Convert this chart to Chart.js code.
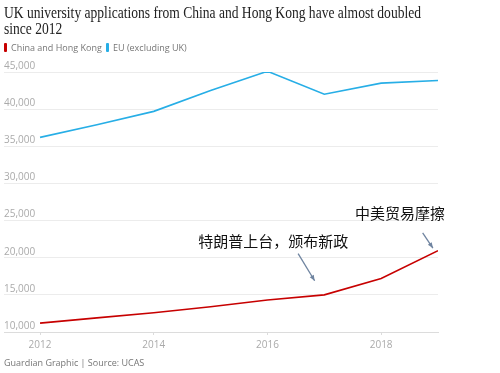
<!DOCTYPE html>
<html><head><meta charset="utf-8">
<script src="https://cdn.jsdelivr.net/npm/chart.js@4/dist/chart.umd.min.js"></script>
<style>
html,body{margin:0;padding:0;background:#fff;width:500px;height:373px;overflow:hidden;}
#wrap{position:relative;width:500px;height:373px;}
#c{position:absolute;left:0;top:0;}
.t{position:absolute;left:4px;font-family:"Liberation Serif",serif;font-size:16.5px;line-height:17px;color:#222;white-space:nowrap;transform-origin:0 0;}
.lg{position:absolute;top:41px;font-family:"Open Sans",sans-serif;font-size:9px;color:#767676;white-space:nowrap;}
.sw{display:inline-block;width:3px;height:9px;margin-right:4px;vertical-align:-1px;border-radius:1px;}
.ft{position:absolute;left:4px;top:356px;font-family:"Open Sans",sans-serif;font-size:9px;color:#767676;}
</style></head>
<body><div id="wrap">
<canvas id="c" width="500" height="373"></canvas>
<div class="t" id="t1" style="top:4px">UK university applications from China and Hong Kong have almost doubled</div>
<div class="t" id="t2" style="top:20px">since 2012</div>
<div class="lg" style="left:4px"><span class="sw" style="background:#c70000"></span>China and Hong Kong</div>
<div class="lg" style="left:106px"><span class="sw" style="background:#27aee6"></span>EU (excluding UK)</div>
<div class="ft">Guardian Graphic | Source: UCAS</div>
</div>
<script>
const years = [2012, 2013, 2014, 2015, 2016, 2017, 2018, 2019];
const chinaHK = [11200, 11900, 12600, 13400, 14300, 15000, 17200, 20950];
const eu = [36200, 37900, 39700, 42500, 45100, 42000, 43500, 43850];
const yTicks = [10000, 15000, 20000, 25000, 30000, 35000, 40000, 45000];
const xTicks = [2012, 2014, 2016, 2018];
const notes = [
  {text: '特朗普上台，颁布新政', x: 2016.1, y: 22200, from: [2016.54, 20550], to: [2016.83, 16900]},
  {text: '中美贸易摩擦', x: 2018.33, y: 25950, from: [2018.73, 23350], to: [2018.91, 21300]}
];

// fit title line to reference width by horizontal scaling
(function(){
  const t1 = document.getElementById('t1'), t2 = document.getElementById('t2');
  const w = t1.getBoundingClientRect().width;
  const k = 417 / w;
  t1.style.transform = 'scaleX(' + k + ')';
  t2.style.transform = 'scaleX(' + k + ')';
})();

const notePlugin = {
  id: 'notes',
  afterDatasetsDraw(chart) {
    const ctx = chart.ctx, xs = chart.scales.x, ys = chart.scales.y;
    ctx.save();
    notes.forEach(n => {
      ctx.font = '15px "Noto Sans CJK SC", sans-serif';
      ctx.fillStyle = '#111';
      ctx.textAlign = 'center';
      ctx.textBaseline = 'middle';
      ctx.fillText(n.text, xs.getPixelForValue(n.x), ys.getPixelForValue(n.y));
      const x1 = xs.getPixelForValue(n.from[0]), y1 = ys.getPixelForValue(n.from[1]);
      const x2 = xs.getPixelForValue(n.to[0]), y2 = ys.getPixelForValue(n.to[1]);
      ctx.strokeStyle = '#6f84a0';
      ctx.fillStyle = '#6f84a0';
      ctx.lineWidth = 1.3;
      ctx.beginPath(); ctx.moveTo(x1, y1); ctx.lineTo(x2, y2); ctx.stroke();
      const a = Math.atan2(y2 - y1, x2 - x1), L = 6;
      ctx.beginPath();
      ctx.moveTo(x2, y2);
      ctx.lineTo(x2 - L * Math.cos(a - 0.4), y2 - L * Math.sin(a - 0.4));
      ctx.lineTo(x2 - L * Math.cos(a + 0.4), y2 - L * Math.sin(a + 0.4));
      ctx.closePath(); ctx.fill();
    });
    ctx.restore();
  }
};

new Chart(document.getElementById('c'), {
  type: 'line',
  data: {
    datasets: [
      {label: 'China and Hong Kong', data: years.map((y, i) => ({x: y, y: chinaHK[i]})), borderColor: '#c70000', borderWidth: 1.6, pointRadius: 0, tension: 0},
      {label: 'EU (excluding UK)', data: years.map((y, i) => ({x: y, y: eu[i]})), borderColor: '#27aee6', borderWidth: 1.6, pointRadius: 0, tension: 0}
    ]
  },
  options: {
    responsive: false,
    animation: false,
    layout: {padding: {top: 72, left: 4, right: 62, bottom: 0}},
    plugins: {legend: {display: false}, tooltip: {enabled: false}, title: {display: false}},
    scales: {
      x: {
        type: 'linear', min: 2011.366, max: 2019,
        afterBuildTicks: s => { s.ticks = xTicks.map(v => ({value: v})); },
        afterFit: s => { s.height = 41; },
        grid: {display: true, drawOnChartArea: false, drawTicks: true, tickLength: 3, color: '#dcdcdc'},
        border: {display: true, color: '#dcdcdc'},
        ticks: {color: '#aaa', font: {family: '"Open Sans", sans-serif', size: 10}, padding: 4, callback: v => String(v), maxRotation: 0}
      },
      y: {
        min: 10000, max: 45000,
        afterBuildTicks: s => { s.ticks = yTicks.map(v => ({value: v})); },
        afterFit: s => { s.width = 0; },
        grid: {color: '#ececec', drawTicks: false},
        border: {display: false},
        ticks: {mirror: true, padding: 0, labelOffset: -6, color: '#aaa', font: {family: '"Open Sans", sans-serif', size: 10},
          callback: v => v.toLocaleString('en-US')}
      }
    }
  },
  plugins: [notePlugin]
});
</script>
</body></html>
